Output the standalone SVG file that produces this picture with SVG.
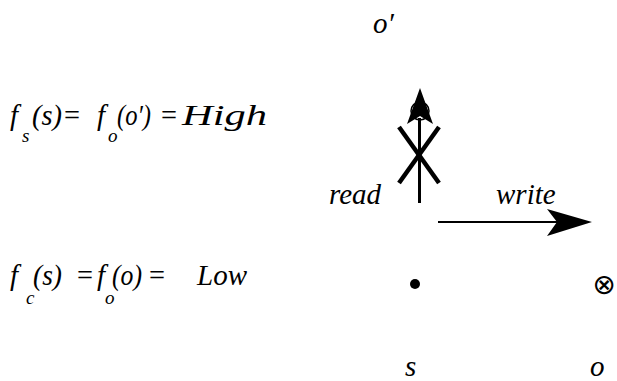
<svg xmlns="http://www.w3.org/2000/svg" width="617" height="381" viewBox="0 0 617 381">
<style>
text{font-family:'Liberation Serif','Times New Roman',serif;font-style:italic;font-size:29px;fill:#000}
.sub{font-size:19px}
.eq{font-style:normal}
.ln{stroke:#000;fill:none}
</style>
<rect width="617" height="381" fill="#fff"/>
<g id="label-high">
<text y="125"><tspan x="10">f</tspan><tspan class="sub" x="22" y="142">s</tspan><tspan x="32" y="125" textLength="30" lengthAdjust="spacingAndGlyphs">(s)</tspan><tspan class="eq" x="64" textLength="16" lengthAdjust="spacingAndGlyphs">=</tspan><tspan x="97">f</tspan><tspan class="sub" x="108" y="142">o</tspan><tspan x="117" y="125" textLength="34" lengthAdjust="spacingAndGlyphs">(o′)</tspan><tspan class="eq" x="161" textLength="16" lengthAdjust="spacingAndGlyphs">=</tspan><tspan x="182" textLength="85" lengthAdjust="spacingAndGlyphs">High</tspan></text>
</g>
<g id="label-low">
<text y="285"><tspan x="10">f</tspan><tspan class="sub" x="26" y="304">c</tspan><tspan x="33" y="285" textLength="29" lengthAdjust="spacingAndGlyphs">(s)</tspan><tspan class="eq" x="77" textLength="16" lengthAdjust="spacingAndGlyphs">=</tspan><tspan x="97">f</tspan><tspan class="sub" x="105" y="304">o</tspan><tspan x="112" y="285" textLength="30" lengthAdjust="spacingAndGlyphs">(o)</tspan><tspan class="eq" x="149" textLength="16" lengthAdjust="spacingAndGlyphs">=</tspan><tspan x="197">Low</tspan></text>
</g>
<g id="node-oprime">
<circle class="ln" cx="420" cy="111" r="9" stroke-width="1.5"/>
<text x="373" y="33">o′</text>
</g>
<g id="node-s">
<circle cx="415" cy="284" r="5" fill="#000"/>
<text x="405" y="376">s</text>
</g>
<g id="node-o">
<text x="604" y="294" text-anchor="middle" style="font-family:'DejaVu Sans',sans-serif;font-style:normal;font-size:28px">⊗</text>
<text x="590" y="376">o</text>
</g>
<g id="connectors">
<line class="ln" x1="419.5" y1="203" x2="419.5" y2="118" stroke-width="3"/>
<path d="M420 88 L433 124 L420 116 L407 124 Z" fill="#000"/>
<line class="ln" x1="399" y1="127" x2="439" y2="183" stroke-width="4.5"/>
<line class="ln" x1="439" y1="127" x2="399" y2="183" stroke-width="4.5"/>
<line class="ln" x1="438" y1="222" x2="558" y2="222" stroke-width="2.2"/>
<path d="M592 222 L547 236 L557 222 L547 209 Z" fill="#000"/>
<text x="329" y="204">read</text>
<text x="496" y="204">write</text>
</g>
</svg>
